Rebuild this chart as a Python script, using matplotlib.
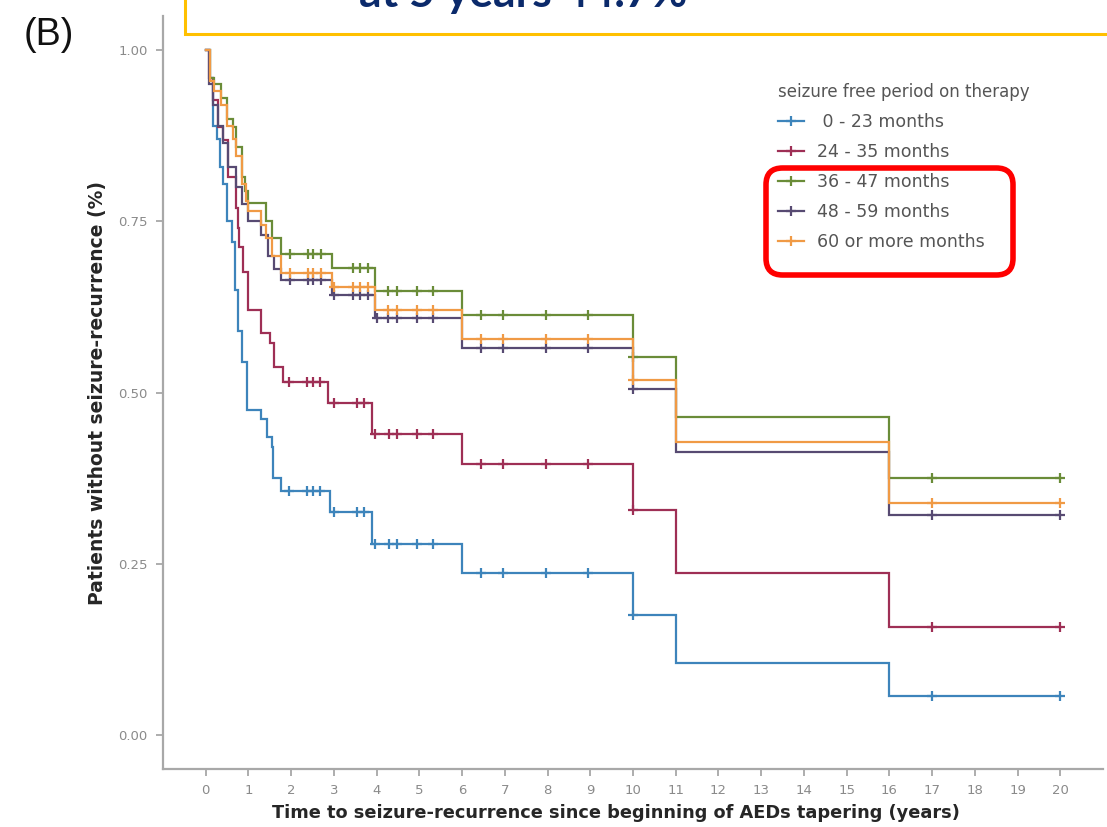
import matplotlib
matplotlib.use("Agg")
import matplotlib.pyplot as plt
from matplotlib.lines import Line2D
from matplotlib.patches import Rectangle, FancyBboxPatch
import numpy as np

# ---------------- data ----------------
groups = [" 0 - 23 months", "24 - 35 months", "36 - 47 months",
          "48 - 59 months", "60 or more months"]
colors = ["#3d84bb", "#9e2f55", "#6a8c38", "#574a72", "#f09a45"]

t_g1 = [0, 0.1, 0.17, 0.26, 0.33, 0.4, 0.5, 0.62, 0.68, 0.75, 0.85, 0.97,
        1.3, 1.43, 1.55, 1.58, 1.75, 2.9, 3.9, 6.0, 10.0, 11.0, 16.0]
s_g1 = [1.0, 0.96, 0.89, 0.87, 0.83, 0.805, 0.75, 0.72, 0.65, 0.59, 0.545, 0.475,
        0.462, 0.435, 0.42, 0.375, 0.356, 0.325, 0.278, 0.236, 0.175, 0.105, 0.057]

t_g2 = [0, 0.08, 0.16, 0.28, 0.4, 0.52, 0.72, 0.75, 0.78, 0.87, 0.98,
        1.3, 1.5, 1.6, 1.8, 2.85, 3.9, 6.0, 10.0, 11.0, 16.0]
s_g2 = [1.0, 0.96, 0.927, 0.888, 0.869, 0.815, 0.77, 0.74, 0.712, 0.676, 0.62,
        0.587, 0.572, 0.537, 0.516, 0.484, 0.44, 0.396, 0.328, 0.236, 0.158]

t_g3 = [0, 0.1, 0.2, 0.35, 0.5, 0.63, 0.72, 0.85, 0.92, 1.0, 1.4, 1.55,
        1.75, 2.95, 3.95, 6.0, 10.0, 11.0, 16.0]
s_g3 = [1.0, 0.96, 0.95, 0.93, 0.90, 0.888, 0.858, 0.815, 0.795, 0.777, 0.75, 0.725,
        0.703, 0.682, 0.648, 0.613, 0.552, 0.464, 0.375]

t_g4 = [0, 0.08, 0.16, 0.28, 0.4, 0.52, 0.7, 0.85, 1.0, 1.3, 1.45, 1.6,
        1.75, 2.95, 3.95, 6.0, 10.0, 11.0, 16.0]
s_g4 = [1.0, 0.95, 0.92, 0.89, 0.865, 0.83, 0.80, 0.775, 0.75, 0.73, 0.70, 0.68,
        0.664, 0.642, 0.609, 0.565, 0.505, 0.413, 0.321]

t_g5 = [0, 0.1, 0.2, 0.35, 0.5, 0.63, 0.72, 0.85, 0.95, 1.0, 1.3, 1.4, 1.55,
        1.75, 2.95, 3.95, 6.0, 10.0, 11.0, 16.0]
s_g5 = [1.0, 0.955, 0.94, 0.92, 0.89, 0.87, 0.845, 0.805, 0.78, 0.765, 0.745, 0.725, 0.70,
        0.675, 0.654, 0.62, 0.578, 0.518, 0.428, 0.339]

cens_g1 = [1.95, 2.37, 2.5, 2.68, 3.0, 3.54, 3.7, 3.95, 4.3, 4.47, 4.94, 5.32,
           6.45, 6.95, 7.96, 8.94, 10.0, 17.0, 20.0]
cens_g2 = [1.95, 2.37, 2.5, 2.68, 3.0, 3.54, 3.7, 3.95, 4.3, 4.47, 4.94, 5.32,
           6.45, 6.95, 7.96, 8.94, 10.0, 17.0, 20.0]
cens_g3 = [1.97, 2.4, 2.5, 2.7, 3.45, 3.6, 3.8, 4.27, 4.48, 4.95, 5.33,
           6.45, 6.95, 7.96, 8.94, 10.0, 17.0, 20.0]
cens_g4 = [1.97, 2.4, 2.5, 2.7, 3.0, 3.45, 3.6, 3.8, 4.0, 4.27, 4.48, 4.95, 5.33,
           6.45, 6.95, 7.96, 8.94, 10.0, 17.0, 20.0]
cens_g5 = [1.97, 2.4, 2.5, 2.7, 3.0, 3.45, 3.6, 3.8, 4.27, 4.48, 4.95, 5.33,
           6.45, 6.95, 7.96, 8.94, 10.0, 17.0, 20.0]
end_time = 20.0

x_ticks = list(range(0, 21))
y_ticks = [0.0, 0.25, 0.5, 0.75, 1.0]
y_ticklabels = ["0.00", "0.25", "0.50", "0.75", "1.00"]

times = [t_g1, t_g2, t_g3, t_g4, t_g5]
survs = [s_g1, s_g2, s_g3, s_g4, s_g5]
cens = [cens_g1, cens_g2, cens_g3, cens_g4, cens_g5]

# ---------------- figure ----------------
W, H = 1107, 827
fig = plt.figure(figsize=(W / 100, H / 100), dpi=100)
fig.patch.set_facecolor("white")

def fx(px):
    return px / W

def fy(py):
    return 1 - py / H

ax = fig.add_axes([fx(163), fy(769), fx(1103) - fx(163), fy(16) - fy(769)])

for t, s, c, col in zip(times, survs, cens, colors):
    tt = list(t) + [end_time]
    ss = list(s) + [s[-1]]
    ax.step(tt, ss, where="post", color=col, lw=1.6, solid_joinstyle="miter")
    cy = [s[np.searchsorted(t, ci, side="right") - 1] for ci in c]
    ax.plot(c, cy, ls="none", marker="+", ms=7, mew=1.6, color=col)

ax.set_xlim(-1, 21)
ax.set_ylim(-0.05, 1.05)
ax.set_xticks(x_ticks)
ax.set_yticks(y_ticks)
ax.set_yticklabels(y_ticklabels)
for sp in ["top", "right"]:
    ax.spines[sp].set_visible(False)
for sp in ["left", "bottom"]:
    ax.spines[sp].set_color("#a8a8a8")
    ax.spines[sp].set_linewidth(1.6)
ax.tick_params(axis="both", colors="#a0a0a0", length=5, width=1.2,
               labelsize=9.5, labelcolor="#8a8a8a", pad=6)

ax.set_xlabel("Time to seizure-recurrence since beginning of AEDs tapering (years)",
              fontsize=12.8, fontweight="bold", color="#262626")
ax.xaxis.set_label_coords((616 - 163) / 940, -(804 - 769) / 753)
ax.set_ylabel("Patients without seizure-recurrence (%)",
              fontsize=13.5, fontweight="bold", color="#262626")
ax.yaxis.set_label_coords(-(163 - 107) / 940, (769 - 393) / 753)

# legend
handles = [Line2D([], [], color=col, lw=1.6, marker="+", ms=7, mew=1.6)
           for col in colors]
leg = ax.legend(handles, groups, title="seizure free period on therapy",
                loc="upper left", bbox_to_anchor=(fx(769), fy(74)),
                bbox_transform=fig.transFigure, frameon=False,
                fontsize=12.5, title_fontsize=12, handlelength=1.5,
                handletextpad=0.75, labelspacing=0.69, borderpad=0,
                alignment="left")
for txt in leg.get_texts():
    txt.set_color("#555555")
leg.get_title().set_color("#555555")

# red rounded box
fig.patches.append(FancyBboxPatch((fx(766), fy(275)), fx(1013) - fx(766), fy(168) - fy(275),
                                  boxstyle="round,pad=0,rounding_size=0.015",
                                  transform=fig.transFigure, fill=False,
                                  edgecolor="#ff0000", linewidth=4, zorder=5,
                                  mutation_aspect=W / H))

# yellow box at top
fig.patches.append(Rectangle((fx(185), fy(34)), 1.2, 0.2, transform=fig.transFigure,
                             facecolor="white", edgecolor="#ffc000", linewidth=2.2,
                             zorder=5))
fig.text(fx(523), fy(7), "at 5 years 44.7%", ha="center", va="baseline",
         fontsize=32, fontweight="bold", color="#0b2a6b", family="Lato", zorder=6)

fig.text(fx(49), fy(35), "(B)", ha="center", va="center", fontsize=27,
         color="#111111", family="Liberation Sans")

fig.savefig("out.png", dpi=100)
